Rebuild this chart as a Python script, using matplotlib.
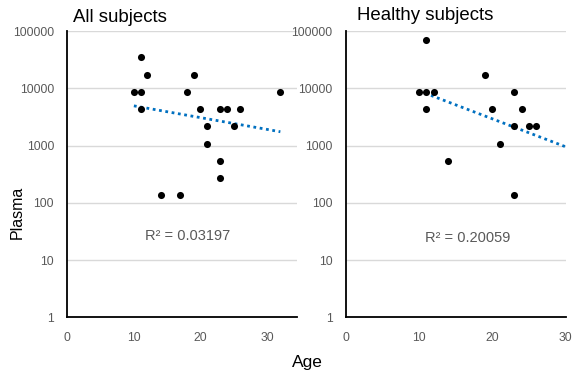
import numpy as np
import matplotlib
matplotlib.use("Agg")
import matplotlib.pyplot as plt

plt.rcParams['font.family'] = ['Liberation Sans', 'DejaVu Sans']

# All subjects
all_age = [10, 11, 11, 11, 12, 14, 17, 18, 19, 20, 21, 21, 23, 23, 23, 24, 25, 26, 32]
all_titer = [8640, 8640, 34560, 4320, 17280, 135, 135, 8640, 17280, 4320, 2160, 1080,
             4320, 540, 270, 4320, 2160, 4320, 8640]
# Healthy subjects
hl_age = [10, 11, 11, 11, 12, 14, 19, 20, 21, 23, 23, 23, 24, 25, 26]
hl_titer = [8640, 69120, 8640, 4320, 8640, 540, 17280, 4320, 1080, 8640, 2160, 135,
            4320, 2160, 2160]

# Exponential trendline endpoints as shown
all_trend_x = [10, 32]
all_trend_y = [4930, 1740]
hl_trend_x = [10, 30]
hl_trend_y = [9000, 950]

titles = ["All subjects", "Healthy subjects"]
r2_texts = ["R² = 0.03197", "R² = 0.20059"]
yticks = [1, 10, 100, 1000, 10000, 100000]
xticks = [0, 10, 20, 30]

W, H = 572, 372
fig = plt.figure(figsize=(W / 100, H / 100), dpi=100)

def px_axes(x0, x1, ytop, ybot):
    return fig.add_axes([x0 / W, 1 - ybot / H, (x1 - x0) / W, (ybot - ytop) / H])

ax1 = px_axes(67.3, 297, 31, 317.3)
ax2 = px_axes(345.7, 565.7, 31, 317.3)

panels = [
    (ax1, all_age, all_titer, all_trend_x, all_trend_y, 34.5, (18, 26)),
    (ax2, hl_age, hl_titer, hl_trend_x, hl_trend_y, 30, (16.7, 24)),
]

for i, (ax, x, y, tx, ty, xmax, r2pos) in enumerate(panels):
    ax.set_yscale('log')
    ax.set_ylim(1, 100000)
    ax.set_xlim(0, xmax)
    ax.set_yticks(yticks)
    ax.set_yticklabels([str(v) for v in yticks])
    ax.yaxis.set_minor_locator(matplotlib.ticker.NullLocator())
    ax.set_xticks(xticks)
    ax.set_xticklabels([str(v) for v in xticks])
    ax.tick_params(axis='both', length=0, labelsize=8.7, labelcolor='#595959')
    ax.tick_params(axis='y', pad=9.5)
    ax.tick_params(axis='x', pad=10.5)
    ax.grid(axis='y', color='#d9d9d9', linewidth=1)
    ax.set_axisbelow(True)
    for s in ['top', 'right']:
        ax.spines[s].set_visible(False)
    for s in ['left', 'bottom']:
        ax.spines[s].set_color('black')
        ax.spines[s].set_linewidth(1.3)
    ax.plot(tx, ty, linestyle=(0, (1, 1.3)), color='#0070C0', linewidth=2, zorder=2)
    ax.scatter(x, y, s=26, color='black', zorder=3, linewidths=0)
    ax.text(r2pos[0], r2pos[1], r2_texts[i], ha='center', va='center',
            fontsize=10.5, color='#595959')
    for lab in ax.get_xticklabels() + ax.get_yticklabels():
        lab.set_clip_on(False)

fig.text(73 / W, 1 - 18 / H, titles[0], ha='left', va='center', fontsize=13.4, color='black')
fig.text(357 / W, 1 - 16 / H, titles[1], ha='left', va='center', fontsize=13.4, color='black')
fig.text(307.5 / W, 1 - 362 / H, "Age", ha='center', va='center', fontsize=12.5, color='black')
fig.text(17.5 / W, 1 - 239 / H, "Plasma", ha='center', va='bottom', rotation=90,
         fontsize=11.5, color='black')

fig.savefig("out.png", dpi=100)
